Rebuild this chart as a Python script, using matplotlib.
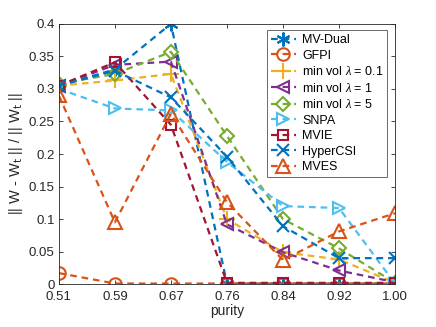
import matplotlib
matplotlib.use("Agg")
import matplotlib.pyplot as plt
import numpy as np

plt.rcParams['font.family'] = ['Liberation Sans', 'DejaVu Sans']
plt.rcParams['mathtext.fontset'] = 'custom'
plt.rcParams['mathtext.it'] = 'Liberation Serif:italic'

purity = [0.51, 0.5917, 0.6733, 0.755, 0.8367, 0.9183, 1.00]
xtick_labels = ["0.51", "0.59", "0.67", "0.76", "0.84", "0.92", "1.00"]

mv_dual = [0.305, 0.330, 0.400, 0.001, 0.001, 0.001, 0.001]
gfpi = [0.017, 0.001, 0.001, 0.001, 0.001, 0.001, 0.001]
minvol_01 = [0.305, 0.313, 0.323, 0.100, 0.049, 0.038, 0.002]
minvol_1 = [0.305, 0.337, 0.342, 0.092, 0.049, 0.021, 0.003]
minvol_5 = [0.308, 0.323, 0.357, 0.228, 0.100, 0.055, 0.002]
snpa = [0.300, 0.270, 0.267, 0.188, 0.120, 0.117, 0.001]
mvie = [0.305, 0.341, 0.245, 0.002, 0.002, 0.002, 0.002]
hypercsi = [0.305, 0.328, 0.287, 0.196, 0.089, 0.040, 0.040]
mves = [0.290, 0.095, 0.262, 0.126, 0.037, 0.081, 0.109]

labels = ["MV-Dual", "GFPI", r"min vol $\lambda$ = 0.1", r"min vol $\lambda$ = 1",
          r"min vol $\lambda$ = 5", "SNPA", "MVIE", "HyperCSI", "MVES"]
series = [mv_dual, gfpi, minvol_01, minvol_1, minvol_5, snpa, mvie, hypercsi, mves]
colors = ["#0072BD", "#D95319", "#EDB120", "#7E2F8E", "#77AC30", "#4DBEEE",
          "#A2142F", "#0072BD", "#D95319"]
markers = [(6, 2, 0), "o", "+", "<", "D", ">", "s", "x", "^"]
msizes = [10, 9, 11, 9, 7.5, 9, 7.5, 9, 10]

fig = plt.figure(figsize=(4.36, 3.27), dpi=100)
ax = fig.add_axes([0.135, 0.131, 0.771, 0.796])

for y, lab, c, m, ms in zip(series, labels, colors, markers, msizes):
    ax.plot(purity, y, linestyle=(0, (3.0, 2.2)), linewidth=1.6, color=c,
            marker=m, markersize=ms, markerfacecolor='none', markeredgewidth=1.5,
            label=lab)

ax.set_xlim(0.51, 1.00)
ax.set_ylim(0, 0.4)
ax.set_xticks(purity)
ax.set_xticklabels(xtick_labels)
yt = [0, 0.05, 0.1, 0.15, 0.2, 0.25, 0.3, 0.35, 0.4]
ax.set_yticks(yt)
ax.set_yticklabels(["0", "0.05", "0.1", "0.15", "0.2", "0.25", "0.3", "0.35", "0.4"])

tc = "#262626"
for s in ax.spines.values():
    s.set_color(tc)
    s.set_linewidth(0.6)
ax.tick_params(direction='in', length=3, width=0.6, colors=tc, labelsize=9.5,
               top=True, right=True, labeltop=False, labelright=False)
ax.tick_params(axis='x', pad=5)
ax.tick_params(axis='y', pad=3)
ax.set_xlabel("purity", fontsize=10, color=tc, labelpad=1)
ax.set_ylabel(r"|| W - W$_\mathrm{t}$ || / || W$_\mathrm{t}$ ||", fontsize=10.5, color=tc, labelpad=3)

leg = ax.legend(loc='upper right', bbox_to_anchor=(0.985, 0.985), fontsize=9,
                frameon=True, fancybox=False, handlelength=2.0, handletextpad=0.5,
                labelspacing=0.28, borderpad=0.3, borderaxespad=0.2)
leg.get_frame().set_edgecolor(tc)
leg.get_frame().set_linewidth(0.6)
for t in leg.get_texts():
    t.set_color("#000000")

fig.savefig("out.png", dpi=100)
